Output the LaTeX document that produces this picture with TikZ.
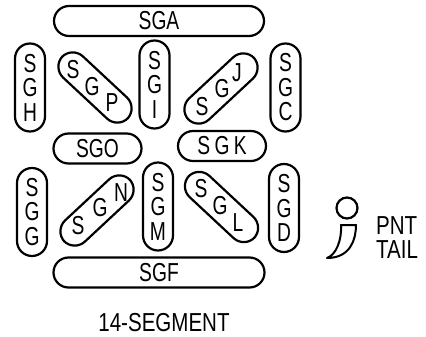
\documentclass[tikz,border=0pt]{standalone}
\usepackage{fontspec}
\setmainfont[FakeStretch=0.74]{Liberation Sans}
\newfontfamily\widefont[FakeStretch=0.79]{Liberation Sans}
\usetikzlibrary{positioning}
\tikzset{
	seg/.style={draw=black, line width=2.2pt, rounded corners=15pt, inner sep=0pt, align=center, font=\fontsize{26}{24.5}\selectfont},
	vseg/.style={seg, minimum width=30pt, minimum height=88pt},
	hseg/.style={seg, minimum height=30pt},
	dseg/.style={seg, minimum width=90pt, minimum height=29pt},
	letter/.style={inner sep=0pt, font=\fontsize{26}{24.5}\selectfont},
	caption/.style={inner sep=0pt, font=\fontsize{26}{24}\widefont},
}
\begin{document}
\begin{tikzpicture}[x=1pt,y=-1pt]
		\useasboundingbox (0,0) rectangle (426,337);
		\node [hseg, minimum width=210pt] (sga) at (159,21) {SGA};
		\node [hseg, minimum width=211pt] (sgf) at (159,272.5) {SGF};
		\node [hseg, minimum width=88pt] (sgo) at (97.5,148.5) {SGO};
		\node [hseg, minimum width=88pt] (sgk) at (222,146) {S\,G\,K};
		\node [vseg] (sgh) at (30,87.5) {S\\G\\H};
		\node [vseg] (sgi) at (154.5,84.5) {S\\G\\I};
		\node [vseg] (sgc) at (285.5,87.5) {S\\G\\C};
		\node [vseg] (sgg) at (32,212) {S\\G\\G};
		\node [vseg] (sgm) at (158,206.5) {S\\G\\M};
		\node [vseg] (sgd) at (284,208) {S\\G\\D};
		\node [dseg, rotate=-43] (sgp) at (95,87.5) {};
		\node [dseg, rotate=43] (sgj) at (221,88.5) {};
		\node [dseg, rotate=43] (sgn) at (97,210.5) {};
		\node [dseg, rotate=-43] (sgl) at (221.5,207) {};
		\node [letter] (p1) at (73,70) {S};
		\node [letter] (p2) at (92,87) {G};
		\node [letter] (p3) at (112,103) {P};
		\node [letter] (j1) at (202,107) {S};
		\node [letter] (j2) at (222,89) {G};
		\node [letter] (j3) at (237,73) {J};
		\node [letter] (n1) at (78,226) {S};
		\node [letter] (n2) at (100,208) {G};
		\node [letter] (n3) at (121,193) {N};
		\node [letter] (l1) at (201,189) {S};
		\node [letter] (l2) at (220,206) {G};
		\node [letter] (l3) at (238,223) {L};
		\draw [line width=2.2pt] (347,208) circle (10.5);
		\draw [line width=2pt, line join=round] (341,225) -- (356,225) .. controls (356,240) and (350,258) .. (327,258) .. controls (336,255) and (342,240) .. (341,225) -- cycle;
		\node [caption, align=left] (pnt) at (397,238) {PNT\\TAIL};
		\node [caption] (title) at (164,323) {14-SEGMENT};
\end{tikzpicture}
\end{document}
